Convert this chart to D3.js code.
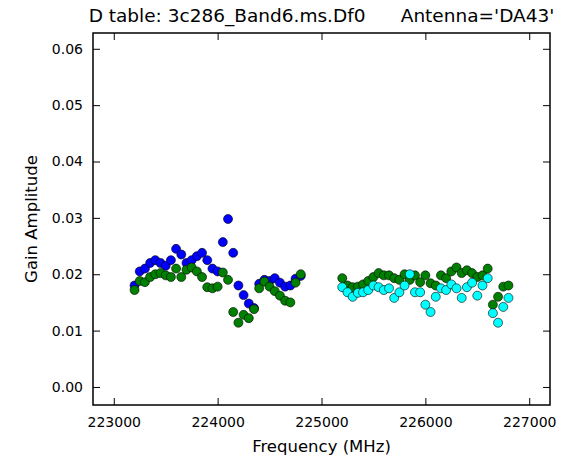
<!DOCTYPE html>
<html>
<head>
<meta charset="utf-8">
<script src="https://cdn.jsdelivr.net/npm/d3@7"></script>
<style>
  body { margin: 0; background: #fff; }
  svg { font-family: "DejaVu Sans", sans-serif; }
</style>
</head>
<body>
<div id="chart"></div>
<script>
// chart size
var width = 570;
var height = 459;
var margin = {top: 33, right: 20, bottom: 54, left: 93};

// channel frequencies (MHz) of the two spectral windows
var freqLow = [223200, 223250, 223300, 223350, 223400, 223450, 223500, 223550, 223600, 223650, 223700,
  223750, 223800, 223850, 223900, 223950, 224000, 224050, 224100, 224150, 224200, 224250,
  224300, 224350, 224400, 224450, 224500, 224550, 224600, 224650, 224700, 224750, 224800];
var freqHigh = [225200, 225250, 225300, 225350, 225400, 225450, 225500, 225550, 225600, 225650, 225700,
  225750, 225800, 225850, 225900, 225950, 226000, 226050, 226100, 226150, 226200, 226250,
  226300, 226350, 226400, 226450, 226500, 226550, 226600, 226650, 226700, 226750, 226800];

// gain amplitudes
var blueLow = [0.0180, 0.0205, 0.0210, 0.0220, 0.0225, 0.0220, 0.0215, 0.0225, 0.0245, 0.0235, 0.0220,
  0.0225, 0.0232, 0.0238, 0.0225, 0.0210, 0.0205, 0.0257, 0.0298, 0.0238, 0.0180, 0.0163,
  0.0148, 0.0140, 0.0183, 0.0190, 0.0188, 0.0193, 0.0185, 0.0178, 0.0180, 0.0192, 0.0197];
var greenLow = [0.0172, 0.0188, 0.0186, 0.0195, 0.0200, 0.0202, 0.0198, 0.0195, 0.0210, 0.0195, 0.0208,
  0.0212, 0.0205, 0.0195, 0.0177, 0.0175, 0.0178, 0.0203, 0.0190, 0.0133, 0.0114, 0.0128,
  0.0122, 0.0138, 0.0175, 0.0187, 0.0178, 0.0170, 0.0162, 0.0153, 0.0150, 0.0185, 0.0200];
var cyanHigh = [0.0177, 0.0168, 0.0160, 0.0167, 0.0168, 0.0172, 0.0180, 0.0177, 0.0172, 0.0175, 0.0158,
  0.0168, 0.0180, 0.0200, 0.0168, 0.0168, 0.0146, 0.0133, 0.0160, 0.0175, 0.0172, 0.0182,
  0.0175, 0.0158, 0.0177, 0.0185, 0.0162, 0.0180, 0.0193, 0.0131, 0.0114, 0.0142, 0.0158];
var greenHigh = [0.0193, 0.0180, 0.0177, 0.0178, 0.0182, 0.0188, 0.0195, 0.0202, 0.0198, 0.0198, 0.0193,
  0.0190, 0.0200, 0.0190, 0.0198, 0.0186, 0.0198, 0.0184, 0.0180, 0.0198, 0.0193, 0.0205,
  0.0212, 0.0202, 0.0207, 0.0202, 0.0195, 0.0198, 0.0210, 0.0146, 0.0160, 0.0178, 0.0180];

var xTicks = [223000, 224000, 225000, 226000, 227000];
var yTicks = [0.00, 0.01, 0.02, 0.03, 0.04, 0.05, 0.06];

var series = [
  {freq: freqLow, amp: blueLow, color: "#0000ff"},
  {freq: freqLow, amp: greenLow, color: "#008000"},
  {freq: freqHigh, amp: greenHigh, color: "#008000"},
  {freq: freqHigh, amp: cyanHigh, color: "#00ffff"}
];

var svg = d3.select("#chart").append("svg")
  .attr("width", width)
  .attr("height", height);

var x = d3.scaleLinear()
  .domain([222800, 227200])
  .range([margin.left, width - margin.right]);

var y = d3.scaleLinear()
  .domain([-0.0032, 0.0628])
  .range([height - margin.bottom, margin.top]);

// points
series.forEach(function(s) {
  svg.append("g")
    .selectAll("circle")
    .data(s.amp)
    .enter()
    .append("circle")
      .attr("cx", function(d, i) { return x(s.freq[i]); })
      .attr("cy", function(d) { return y(d); })
      .attr("r", 4.5)
      .style("fill", s.color)
      .style("stroke", "#000")
      .style("stroke-width", 0.6);
});

// axes, ticks pointing inwards on all four sides
var tickLen = 7;
var axBottom = svg.append("g")
  .attr("transform", "translate(0," + (height - margin.bottom) + ")")
  .call(d3.axisBottom(x).tickValues(xTicks).tickSizeInner(-tickLen).tickSizeOuter(0).tickPadding(12).tickFormat(d3.format("d")));
var axTop = svg.append("g")
  .attr("transform", "translate(0," + margin.top + ")")
  .call(d3.axisTop(x).tickValues(xTicks).tickSizeInner(-tickLen).tickSizeOuter(0).tickFormat(""));
var axLeft = svg.append("g")
  .attr("transform", "translate(" + margin.left + ",0)")
  .call(d3.axisLeft(y).tickValues(yTicks).tickSizeInner(-tickLen).tickSizeOuter(0).tickPadding(10).tickFormat(d3.format(".2f")));
var axRight = svg.append("g")
  .attr("transform", "translate(" + (width - margin.right) + ",0)")
  .call(d3.axisRight(y).tickValues(yTicks).tickSizeInner(-tickLen).tickSizeOuter(0).tickFormat(""));

[axBottom, axTop, axLeft, axRight].forEach(function(g) {
  g.select(".domain").remove();
  g.selectAll("line").style("stroke", "#000").style("stroke-width", 1);
  g.selectAll("text").style("font-size", "14px").style("fill", "#000").style("font-family", "DejaVu Sans");
});

// frame
svg.append("rect")
  .attr("x", margin.left)
  .attr("y", margin.top)
  .attr("width", width - margin.left - margin.right)
  .attr("height", height - margin.top - margin.bottom)
  .style("fill", "none")
  .style("stroke", "#000")
  .style("stroke-width", 1.5);

// title and labels
svg.append("text")
  .attr("x", (margin.left + width - margin.right) / 2)
  .attr("y", 22)
  .attr("text-anchor", "middle")
  .style("font-size", "18.5px")
  .style("white-space", "pre")
  .attr("xml:space", "preserve")
  .text("D table: 3c286_Band6.ms.Df0      Antenna='DA43'");

svg.append("text")
  .attr("x", (margin.left + width - margin.right) / 2)
  .attr("y", 452)
  .attr("text-anchor", "middle")
  .style("font-size", "16.5px")
  .text("Frequency (MHz)");

svg.append("text")
  .attr("transform", "translate(37," + ((margin.top + height - margin.bottom) / 2) + ") rotate(-90)")
  .attr("text-anchor", "middle")
  .style("font-size", "16.5px")
  .text("Gain Amplitude");
</script>
</body>
</html>
